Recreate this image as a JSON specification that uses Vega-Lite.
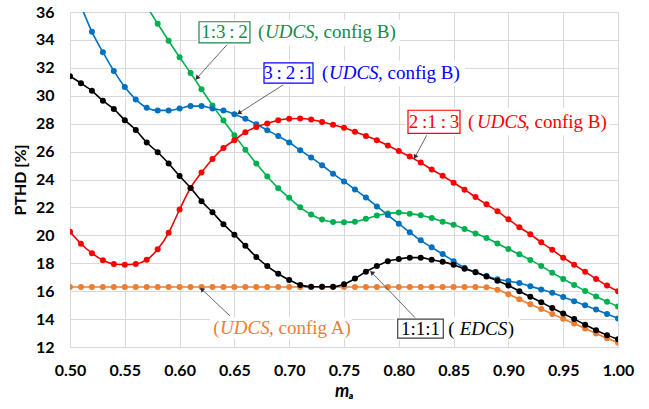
{
"$schema": "https://vega.github.io/schema/vega-lite/v6.json",
"width": 548, "height": 335,
"autosize": {"type": "none"},
"padding": {"left": 70, "top": 12, "right": 31, "bottom": 62},
"background": "white",
"config": {
  "view": {"stroke": null},
  "axis": {"gridColor": "#d9d9d9", "gridWidth": 1, "domainColor": "#d9d9d9", "ticks": false, "labelFont": "Lato", "labelFontWeight": "bold", "labelFontSize": 16, "labelColor": "#000000", "labelOverlap": false, "titleFont": "Lato", "titleFontWeight": "bold", "titleFontSize": 16, "titleColor": "#000000"}
},
"datasets": {
"series": [
{"s":"A","ma":0.50,"v":16.3},{"s":"A","ma":0.51,"v":16.3},{"s":"A","ma":0.52,"v":16.3},{"s":"A","ma":0.53,"v":16.3},{"s":"A","ma":0.54,"v":16.3},{"s":"A","ma":0.55,"v":16.3},{"s":"A","ma":0.56,"v":16.3},{"s":"A","ma":0.57,"v":16.3},{"s":"A","ma":0.58,"v":16.3},{"s":"A","ma":0.59,"v":16.3},{"s":"A","ma":0.60,"v":16.3},{"s":"A","ma":0.61,"v":16.3},{"s":"A","ma":0.62,"v":16.3},{"s":"A","ma":0.63,"v":16.3},{"s":"A","ma":0.64,"v":16.3},{"s":"A","ma":0.65,"v":16.3},{"s":"A","ma":0.66,"v":16.3},{"s":"A","ma":0.67,"v":16.3},{"s":"A","ma":0.68,"v":16.3},{"s":"A","ma":0.69,"v":16.3},{"s":"A","ma":0.70,"v":16.3},{"s":"A","ma":0.71,"v":16.3},{"s":"A","ma":0.72,"v":16.3},{"s":"A","ma":0.73,"v":16.3},{"s":"A","ma":0.74,"v":16.3},{"s":"A","ma":0.75,"v":16.3},{"s":"A","ma":0.76,"v":16.3},{"s":"A","ma":0.77,"v":16.3},{"s":"A","ma":0.78,"v":16.3},{"s":"A","ma":0.79,"v":16.3},{"s":"A","ma":0.80,"v":16.3},{"s":"A","ma":0.81,"v":16.3},{"s":"A","ma":0.82,"v":16.3},{"s":"A","ma":0.83,"v":16.3},{"s":"A","ma":0.84,"v":16.3},{"s":"A","ma":0.85,"v":16.3},{"s":"A","ma":0.86,"v":16.3},{"s":"A","ma":0.87,"v":16.3},{"s":"A","ma":0.88,"v":16.28},{"s":"A","ma":0.89,"v":16.1},{"s":"A","ma":0.90,"v":15.78},{"s":"A","ma":0.91,"v":15.42},{"s":"A","ma":0.92,"v":15.06},{"s":"A","ma":0.93,"v":14.72},{"s":"A","ma":0.94,"v":14.37},{"s":"A","ma":0.95,"v":14.02},{"s":"A","ma":0.96,"v":13.68},{"s":"A","ma":0.97,"v":13.33},{"s":"A","ma":0.98,"v":12.97},{"s":"A","ma":0.99,"v":12.62},{"s":"A","ma":1.00,"v":12.3},
{"s":"G","ma":0.56,"v":37.6},{"s":"G","ma":0.57,"v":36.4},{"s":"G","ma":0.58,"v":35.16},{"s":"G","ma":0.59,"v":33.94},{"s":"G","ma":0.60,"v":32.76},{"s":"G","ma":0.61,"v":31.63},{"s":"G","ma":0.62,"v":30.46},{"s":"G","ma":0.63,"v":29.31},{"s":"G","ma":0.64,"v":28.23},{"s":"G","ma":0.65,"v":27.17},{"s":"G","ma":0.66,"v":26.14},{"s":"G","ma":0.67,"v":25.14},{"s":"G","ma":0.68,"v":24.22},{"s":"G","ma":0.69,"v":23.38},{"s":"G","ma":0.70,"v":22.69},{"s":"G","ma":0.71,"v":22.01},{"s":"G","ma":0.72,"v":21.49},{"s":"G","ma":0.73,"v":21.13},{"s":"G","ma":0.74,"v":20.95},{"s":"G","ma":0.75,"v":20.94},{"s":"G","ma":0.76,"v":20.98},{"s":"G","ma":0.77,"v":21.18},{"s":"G","ma":0.78,"v":21.42},{"s":"G","ma":0.79,"v":21.56},{"s":"G","ma":0.80,"v":21.63},{"s":"G","ma":0.81,"v":21.55},{"s":"G","ma":0.82,"v":21.44},{"s":"G","ma":0.83,"v":21.25},{"s":"G","ma":0.84,"v":20.98},{"s":"G","ma":0.85,"v":20.75},{"s":"G","ma":0.86,"v":20.46},{"s":"G","ma":0.87,"v":20.14},{"s":"G","ma":0.88,"v":19.81},{"s":"G","ma":0.89,"v":19.42},{"s":"G","ma":0.90,"v":19.02},{"s":"G","ma":0.91,"v":18.64},{"s":"G","ma":0.92,"v":18.24},{"s":"G","ma":0.93,"v":17.8},{"s":"G","ma":0.94,"v":17.32},{"s":"G","ma":0.95,"v":16.88},{"s":"G","ma":0.96,"v":16.45},{"s":"G","ma":0.97,"v":16.02},{"s":"G","ma":0.98,"v":15.62},{"s":"G","ma":0.99,"v":15.25},{"s":"G","ma":1.00,"v":14.9},
{"s":"B","ma":0.50,"v":38.0},{"s":"B","ma":0.51,"v":36.4},{"s":"B","ma":0.52,"v":34.58},{"s":"B","ma":0.53,"v":33.12},{"s":"B","ma":0.54,"v":31.78},{"s":"B","ma":0.55,"v":30.63},{"s":"B","ma":0.56,"v":29.74},{"s":"B","ma":0.57,"v":29.14},{"s":"B","ma":0.58,"v":28.95},{"s":"B","ma":0.59,"v":28.95},{"s":"B","ma":0.60,"v":29.09},{"s":"B","ma":0.61,"v":29.26},{"s":"B","ma":0.62,"v":29.26},{"s":"B","ma":0.63,"v":29.09},{"s":"B","ma":0.64,"v":28.95},{"s":"B","ma":0.65,"v":28.68},{"s":"B","ma":0.66,"v":28.35},{"s":"B","ma":0.67,"v":27.96},{"s":"B","ma":0.68,"v":27.53},{"s":"B","ma":0.69,"v":27.12},{"s":"B","ma":0.70,"v":26.65},{"s":"B","ma":0.71,"v":26.1},{"s":"B","ma":0.72,"v":25.57},{"s":"B","ma":0.73,"v":25.02},{"s":"B","ma":0.74,"v":24.42},{"s":"B","ma":0.75,"v":23.86},{"s":"B","ma":0.76,"v":23.29},{"s":"B","ma":0.77,"v":22.71},{"s":"B","ma":0.78,"v":22.07},{"s":"B","ma":0.79,"v":21.45},{"s":"B","ma":0.80,"v":20.83},{"s":"B","ma":0.81,"v":20.22},{"s":"B","ma":0.82,"v":19.64},{"s":"B","ma":0.83,"v":19.14},{"s":"B","ma":0.84,"v":18.66},{"s":"B","ma":0.85,"v":18.15},{"s":"B","ma":0.86,"v":17.68},{"s":"B","ma":0.87,"v":17.37},{"s":"B","ma":0.88,"v":17.08},{"s":"B","ma":0.89,"v":16.86},{"s":"B","ma":0.90,"v":16.72},{"s":"B","ma":0.91,"v":16.58},{"s":"B","ma":0.92,"v":16.36},{"s":"B","ma":0.93,"v":16.12},{"s":"B","ma":0.94,"v":15.88},{"s":"B","ma":0.95,"v":15.59},{"s":"B","ma":0.96,"v":15.28},{"s":"B","ma":0.97,"v":14.99},{"s":"B","ma":0.98,"v":14.68},{"s":"B","ma":0.99,"v":14.37},{"s":"B","ma":1.00,"v":14.05},
{"s":"R","ma":0.50,"v":20.25},{"s":"R","ma":0.51,"v":19.4},{"s":"R","ma":0.52,"v":18.72},{"s":"R","ma":0.53,"v":18.22},{"s":"R","ma":0.54,"v":17.95},{"s":"R","ma":0.55,"v":17.9},{"s":"R","ma":0.56,"v":17.95},{"s":"R","ma":0.57,"v":18.25},{"s":"R","ma":0.58,"v":19.0},{"s":"R","ma":0.59,"v":20.18},{"s":"R","ma":0.60,"v":21.85},{"s":"R","ma":0.61,"v":23.4},{"s":"R","ma":0.62,"v":24.5},{"s":"R","ma":0.63,"v":25.47},{"s":"R","ma":0.64,"v":26.26},{"s":"R","ma":0.65,"v":26.82},{"s":"R","ma":0.66,"v":27.39},{"s":"R","ma":0.67,"v":27.76},{"s":"R","ma":0.68,"v":28.02},{"s":"R","ma":0.69,"v":28.25},{"s":"R","ma":0.70,"v":28.35},{"s":"R","ma":0.71,"v":28.37},{"s":"R","ma":0.72,"v":28.3},{"s":"R","ma":0.73,"v":28.12},{"s":"R","ma":0.74,"v":27.92},{"s":"R","ma":0.75,"v":27.7},{"s":"R","ma":0.76,"v":27.42},{"s":"R","ma":0.77,"v":27.12},{"s":"R","ma":0.78,"v":26.81},{"s":"R","ma":0.79,"v":26.43},{"s":"R","ma":0.80,"v":26.04},{"s":"R","ma":0.81,"v":25.64},{"s":"R","ma":0.82,"v":25.21},{"s":"R","ma":0.83,"v":24.72},{"s":"R","ma":0.84,"v":24.27},{"s":"R","ma":0.85,"v":23.77},{"s":"R","ma":0.86,"v":23.27},{"s":"R","ma":0.87,"v":22.74},{"s":"R","ma":0.88,"v":22.22},{"s":"R","ma":0.89,"v":21.73},{"s":"R","ma":0.90,"v":21.15},{"s":"R","ma":0.91,"v":20.58},{"s":"R","ma":0.92,"v":20.07},{"s":"R","ma":0.93,"v":19.5},{"s":"R","ma":0.94,"v":18.96},{"s":"R","ma":0.95,"v":18.4},{"s":"R","ma":0.96,"v":17.9},{"s":"R","ma":0.97,"v":17.39},{"s":"R","ma":0.98,"v":16.88},{"s":"R","ma":0.99,"v":16.4},{"s":"R","ma":1.00,"v":16.0},
{"s":"K","ma":0.50,"v":31.4},{"s":"K","ma":0.51,"v":30.9},{"s":"K","ma":0.52,"v":30.35},{"s":"K","ma":0.53,"v":29.65},{"s":"K","ma":0.54,"v":29.05},{"s":"K","ma":0.55,"v":28.25},{"s":"K","ma":0.56,"v":27.55},{"s":"K","ma":0.57,"v":26.65},{"s":"K","ma":0.58,"v":25.95},{"s":"K","ma":0.59,"v":25.15},{"s":"K","ma":0.60,"v":24.25},{"s":"K","ma":0.61,"v":23.4},{"s":"K","ma":0.62,"v":22.45},{"s":"K","ma":0.63,"v":21.65},{"s":"K","ma":0.64,"v":20.8},{"s":"K","ma":0.65,"v":20.05},{"s":"K","ma":0.66,"v":19.25},{"s":"K","ma":0.67,"v":18.45},{"s":"K","ma":0.68,"v":17.8},{"s":"K","ma":0.69,"v":17.25},{"s":"K","ma":0.70,"v":16.8},{"s":"K","ma":0.71,"v":16.45},{"s":"K","ma":0.72,"v":16.32},{"s":"K","ma":0.73,"v":16.32},{"s":"K","ma":0.74,"v":16.32},{"s":"K","ma":0.75,"v":16.5},{"s":"K","ma":0.76,"v":16.9},{"s":"K","ma":0.77,"v":17.4},{"s":"K","ma":0.78,"v":17.8},{"s":"K","ma":0.79,"v":18.15},{"s":"K","ma":0.80,"v":18.3},{"s":"K","ma":0.81,"v":18.4},{"s":"K","ma":0.82,"v":18.4},{"s":"K","ma":0.83,"v":18.25},{"s":"K","ma":0.84,"v":18.1},{"s":"K","ma":0.85,"v":17.9},{"s":"K","ma":0.86,"v":17.6},{"s":"K","ma":0.87,"v":17.35},{"s":"K","ma":0.88,"v":17.05},{"s":"K","ma":0.89,"v":16.75},{"s":"K","ma":0.90,"v":16.4},{"s":"K","ma":0.91,"v":16.0},{"s":"K","ma":0.92,"v":15.6},{"s":"K","ma":0.93,"v":15.2},{"s":"K","ma":0.94,"v":14.8},{"s":"K","ma":0.95,"v":14.4},{"s":"K","ma":0.96,"v":14.0},{"s":"K","ma":0.97,"v":13.6},{"s":"K","ma":0.98,"v":13.2},{"s":"K","ma":0.99,"v":12.85},{"s":"K","ma":1.00,"v":12.55}
],
"bg": [
{"s":"G","ma":0.6159,"ma2":0.8011,"v":35.45,"v2":33.58},
{"s":"B","ma":0.6752,"ma2":0.8604,"v":32.5,"v2":30.7},
{"s":"R","ma":0.8066,"ma2":0.9927,"v":29.11,"v2":27.17},
{"s":"A","ma":0.6277,"ma2":0.7573,"v":14.1,"v2":12.6},
{"s":"K","ma":0.7965,"ma2":0.9106,"v":14.1,"v2":12.5}
],
"boxes": [
{"s":"G","ma":0.6177,"ma2":0.6642,"v":35.3,"v2":33.79},
{"s":"B","ma":0.677,"ma2":0.7217,"v":32.35,"v2":30.91},
{"s":"R","ma":0.8084,"ma2":0.8558,"v":28.96,"v2":27.31},
{"s":"K","ma":0.799,"ma2":0.8406,"v":14.0,"v2":12.63}
],
"ann": [
{"s":"G","part":"c","txt":"1:3\u2009:\u20092","ma":0.641,"v":34.55},
{"s":"B","part":"c","txt":"3\u2009:\u20092\u2009:1","ma":0.6994,"v":31.63},
{"s":"R","part":"c","txt":"2\u2009:1\u2009:\u20093","ma":0.8321,"v":28.14},
{"s":"K","part":"c","txt":"1:1:1","ma":0.8198,"v":13.32},
{"s":"G","part":"n","txt":"(","ma":0.6715,"v":34.55},{"s":"G","part":"i","txt":"UDCS","ma":0.6779,"v":34.55},{"s":"G","part":"n","txt":", config B)","ma":0.7226,"v":34.55},
{"s":"B","part":"n","txt":"(","ma":0.7299,"v":31.63},{"s":"B","part":"i","txt":"UDCS","ma":0.7363,"v":31.63},{"s":"B","part":"n","txt":", config B)","ma":0.781,"v":31.63},
{"s":"R","part":"n","txt":"(","ma":0.8631,"v":28.14},{"s":"R","part":"i","txt":"UDCS","ma":0.8714,"v":28.14},{"s":"R","part":"n","txt":", config B)","ma":0.9151,"v":28.14},
{"s":"A","part":"n","txt":"(","ma":0.6308,"v":13.38},{"s":"A","part":"i","txt":"UDCS","ma":0.6369,"v":13.38},{"s":"A","part":"n","txt":", config A)","ma":0.6816,"v":13.38},
{"s":"K","part":"n","txt":"(","ma":0.8452,"v":13.32},{"s":"K","part":"i","txt":"EDCS","ma":0.8555,"v":13.32},{"s":"K","part":"n","txt":")","ma":0.8995,"v":13.32}
],
"arrows": [
{"id":"G","ma2":0.6432,"v2":33.65,"ma":0.6159,"v":31.27},
{"id":"B","ma2":0.6943,"v2":30.77,"ma":0.6542,"v":28.76},
{"id":"R","ma2":0.8255,"v2":27.17,"ma":0.8148,"v":25.61},
{"id":"A","ma2":0.646,"v2":14.22,"ma":0.6202,"v":16.14},
{"id":"K","ma2":0.8148,"v2":14.1,"ma":0.7753,"v":17.34}
]
},
"encoding": {
  "x": {"field": "ma", "type": "quantitative", "scale": {"domain": [0.5, 1.0], "nice": false, "zero": false},
    "axis": {"values": [0.5,0.55,0.6,0.65,0.7,0.75,0.8,0.85,0.9,0.95,1.0], "format": ".2f", "title": "mₐ", "titleFontStyle": "italic", "titleFontSize": 18, "labelOverlap": false, "labelPadding": 15, "titlePadding": 4, "labelFlush": false}},
  "y": {"field": "v", "type": "quantitative", "scale": {"domain": [12, 36], "nice": false, "zero": false},
    "axis": {"values": [12,14,16,18,20,22,24,26,28,30,32,34,36], "title": "PTHD [%]", "labelOverlap": false, "labelPadding": 16, "titlePadding": 7, "labelFlush": false}}
},
"layer": [
{
  "data": {"name": "series"},
  "mark": {"type": "line", "clip": true, "strokeWidth": 1.6, "interpolate": "monotone"},
  "encoding": {
    "color": {"field": "s", "type": "nominal", "legend": null,
      "scale": {"domain": ["A","G","B","R","K"], "range": ["#ed7d31","#00b050","#0070c0","#ee0000","#000000"]}}
  }
},
{
  "data": {"name": "series"},
  "mark": {"type": "point", "clip": true, "filled": true, "size": 36, "opacity": 1},
  "encoding": {
    "color": {"field": "s", "type": "nominal", "legend": null,
      "scale": {"domain": ["A","G","B","R","K"], "range": ["#ed7d31","#00b050","#0070c0","#ff0000","#000000"]}}
  }
},
{
  "data": {"name": "bg"},
  "mark": {"type": "rect", "fill": "white"},
  "encoding": {"x2": {"field": "ma2"}, "y2": {"field": "v2"}}
},
{
  "data": {"name": "boxes"},
  "mark": {"type": "rect", "fill": "white", "strokeWidth": 1.2},
  "encoding": {
    "x2": {"field": "ma2"}, "y2": {"field": "v2"},
    "stroke": {"field": "s", "type": "nominal", "legend": null,
      "scale": {"domain": ["A","G","B","R","K"], "range": ["#ed7d31","#158a4a","#0000ff","#ff0000","#404040"]}}
  }
},
{
  "data": {"name": "ann"},
  "transform": [{"filter": "datum.part == 'c'"}],
  "mark": {"type": "text", "font": "Liberation Serif", "fontSize": 19, "align": "center", "baseline": "middle"},
  "encoding": {
    "text": {"field": "txt"},
    "color": {"field": "s", "type": "nominal", "legend": null,
      "scale": {"domain": ["A","G","B","R","K"], "range": ["#ed7d31","#158a4a","#0000ff","#ff0000","#000000"]}}
  }
},
{
  "data": {"name": "ann"},
  "transform": [{"filter": "datum.part == 'n'"}],
  "mark": {"type": "text", "font": "Liberation Serif", "fontSize": 19, "align": "left", "baseline": "middle"},
  "encoding": {
    "text": {"field": "txt"},
    "color": {"field": "s", "type": "nominal", "legend": null,
      "scale": {"domain": ["A","G","B","R","K"], "range": ["#ed7d31","#158a4a","#0000ff","#ff0000","#000000"]}}
  }
},
{
  "data": {"name": "ann"},
  "transform": [{"filter": "datum.part == 'i'"}],
  "mark": {"type": "text", "font": "Liberation Serif", "fontSize": 19, "fontStyle": "italic", "align": "left", "baseline": "middle"},
  "encoding": {
    "text": {"field": "txt"},
    "color": {"field": "s", "type": "nominal", "legend": null,
      "scale": {"domain": ["A","G","B","R","K"], "range": ["#ed7d31","#158a4a","#0000ff","#ff0000","#000000"]}}
  }
},
{
  "data": {"name": "arrows"},
  "mark": {"type": "rule", "color": "#404040", "strokeWidth": 0.8},
  "encoding": {"x2": {"field": "ma2"}, "y2": {"field": "v2"}}
},
{"data": {"name": "arrows"}, "transform": [{"filter": "datum.id == 'G'"}],
 "mark": {"type": "point", "shape": "triangle-up", "filled": true, "color": "#303030", "size": 28, "angle": 222, "opacity": 1}},
{"data": {"name": "arrows"}, "transform": [{"filter": "datum.id == 'B'"}],
 "mark": {"type": "point", "shape": "triangle-up", "filled": true, "color": "#303030", "size": 28, "angle": 237, "opacity": 1}},
{"data": {"name": "arrows"}, "transform": [{"filter": "datum.id == 'R'"}],
 "mark": {"type": "point", "shape": "triangle-up", "filled": true, "color": "#303030", "size": 28, "angle": 208, "opacity": 1}},
{"data": {"name": "arrows"}, "transform": [{"filter": "datum.id == 'A'"}],
 "mark": {"type": "point", "shape": "triangle-up", "filled": true, "color": "#303030", "size": 28, "angle": 313, "opacity": 1}},
{"data": {"name": "arrows"}, "transform": [{"filter": "datum.id == 'K'"}],
 "mark": {"type": "point", "shape": "triangle-up", "filled": true, "color": "#303030", "size": 28, "angle": 313, "opacity": 1}}
],
"resolve": {"scale": {"color": "independent", "stroke": "independent"}}
}
